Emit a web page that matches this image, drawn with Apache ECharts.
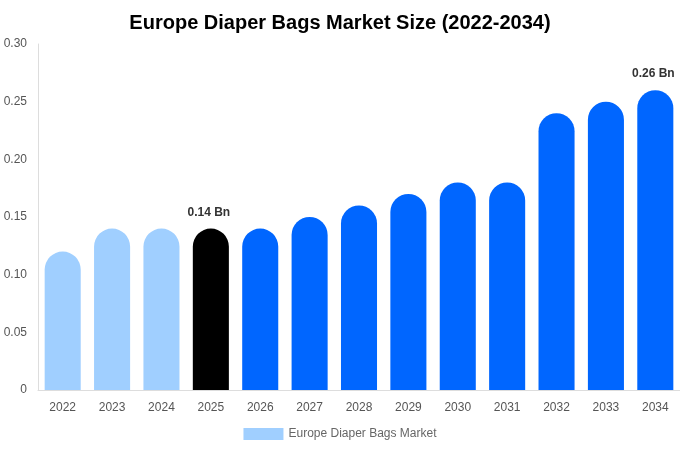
<!DOCTYPE html>
<html><head><meta charset="utf-8">
<script src="https://cdn.jsdelivr.net/npm/echarts@6/dist/echarts.min.js"></script>
<style>html,body{margin:0;padding:0;background:#fff}#c{width:680px;height:450px}</style>
</head><body><div id="c"></div>
<script>
const categories = ['2022','2023','2024','2025','2026','2027','2028','2029','2030','2031','2032','2033','2034'];
const values = [0.12,0.14,0.14,0.14,0.14,0.15,0.16,0.17,0.18,0.18,0.24,0.25,0.26];
const colors = ['#a0cfff','#a0cfff','#a0cfff','#000000','#0066ff','#0066ff','#0066ff','#0066ff','#0066ff','#0066ff','#0066ff','#0066ff','#0066ff'];
const labelled = {'2025':'0.14 Bn','2034':'0.26 Bn'};
const yTicks = ['0','0.05','0.10','0.15','0.20','0.25','0.30'];
const seriesName = 'Europe Diaper Bags Market';

const chart = echarts.init(document.getElementById('c'));
chart.setOption({
  animation:false,
  title:{text:'Europe Diaper Bags Market Size (2022-2034)',left:'center',top:8,
    textStyle:{fontFamily:'Liberation Sans, Arial, sans-serif',fontSize:20,fontWeight:'bold',color:'#000'}},
  legend:{bottom:5,left:'center',icon:'rect',itemWidth:40,itemHeight:12,itemGap:10,
    textStyle:{fontFamily:'Liberation Sans, Arial, sans-serif',fontSize:12,color:'#666'},
    data:[{name:seriesName,itemStyle:{color:'#a0cfff'}}]},
  grid:{left:38,right:0,top:44,bottom:60,containLabel:false},
  xAxis:{type:'category',data:categories,
    axisLine:{lineStyle:{color:'#ddd'}},axisTick:{show:false},
    axisLabel:{color:'#555',fontSize:12,margin:12,fontFamily:'Liberation Sans, Arial, sans-serif'}},
  yAxis:{type:'value',min:0,max:0.30,interval:0.05,
    axisLine:{show:true,lineStyle:{color:'#ddd'}},axisTick:{show:false},splitLine:{show:false},
    axisLabel:{color:'#555',fontSize:12,margin:11,fontFamily:'Liberation Sans, Arial, sans-serif',
      formatter:(v)=>yTicks[Math.round(v/0.05)]}},
  series:[{name:seriesName,type:'bar',barCategoryGap:'27%',
    data:values.map((v,i)=>({value:v,itemStyle:{color:colors[i],borderRadius:[18,18,0,0]},
      label:{show:!!labelled[categories[i]],formatter:labelled[categories[i]]||''}})),
    label:{position:'top',distance:10,offset:[-2,0],color:'#333',fontWeight:'bold',fontSize:12,fontFamily:'Liberation Sans, Arial, sans-serif'}
  }]
});
</script></body></html>
